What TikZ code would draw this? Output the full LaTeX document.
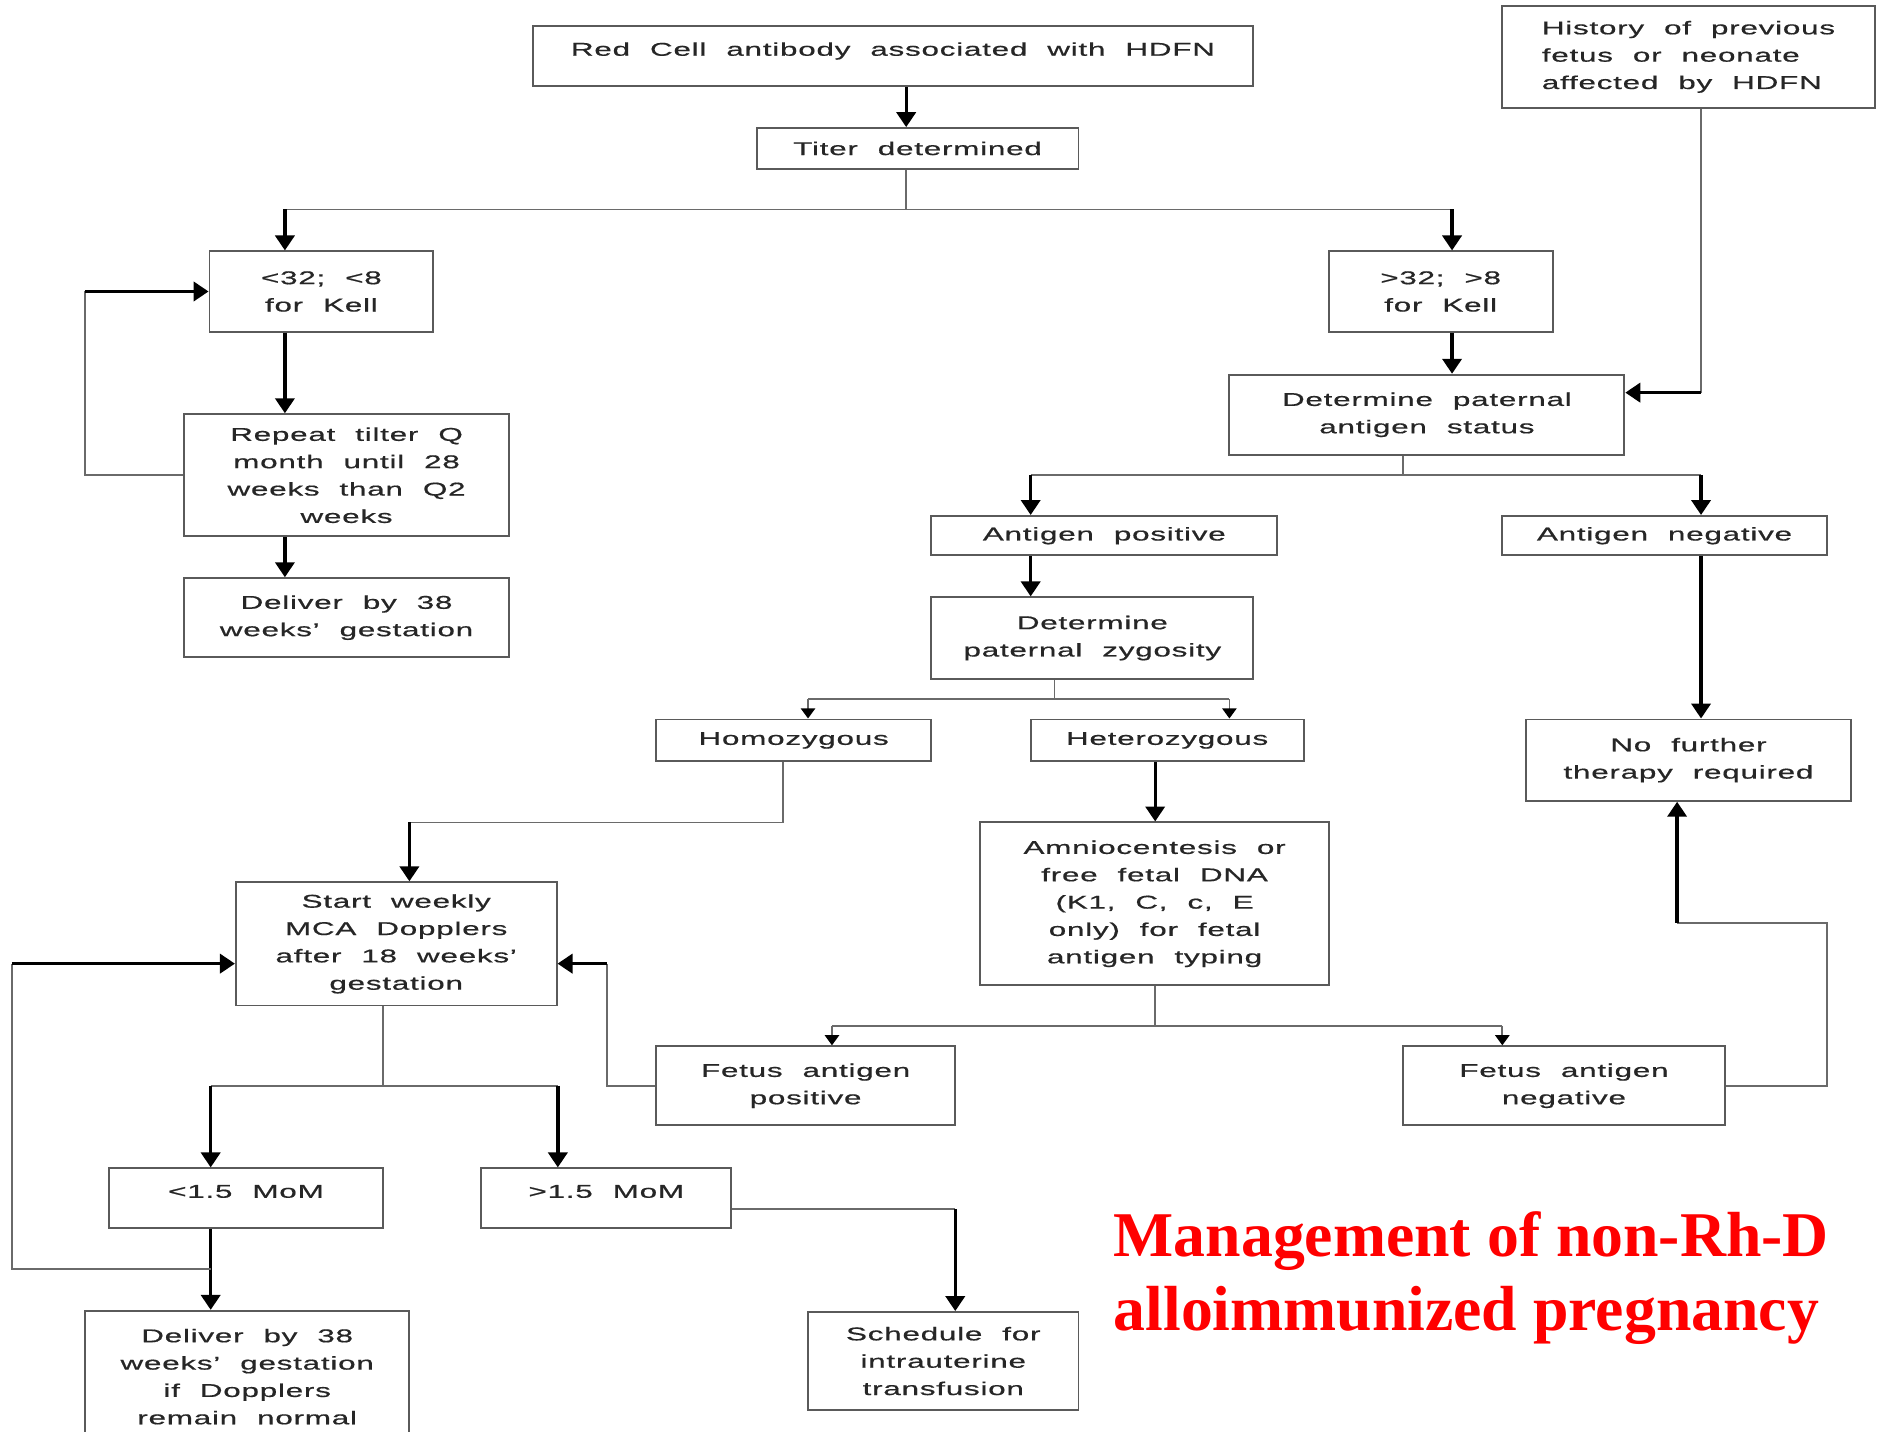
\documentclass[tikz,border=0pt]{standalone}
\usepackage{fontspec}
\usetikzlibrary{arrows.meta, calc}
\newfontfamily\boxfont{Liberation Sans}[FakeStretch=1.7, LetterSpace=4, WordSpace=2.1, FakeBold=0.6]
\newfontfamily\titlefont{Liberation Serif}
\definecolor{boxline}{HTML}{5A5A5A}
\definecolor{linkgray}{HTML}{6A6A6A}
\definecolor{titlered}{HTML}{FF0000}

\begin{document}
\begin{tikzpicture}[
    x=0.02cm, y=-0.02cm,
    box/.style 2 args={draw=boxline, line width=0.9pt, fill=white, minimum width=#1, minimum height=#2, inner sep=0pt, align=center, font=\boxfont\fontsize{8.8}{13}\selectfont, text=black!85},
    raised/.style={text height=6.3pt, text depth=6.8pt},
    link/.style={draw=linkgray, line width=0.8pt},
    arrow/.style={-{Triangle[length=0.25cm, width=0.32cm]}, line width=1.6pt, black},
    minor/.style={-{Triangle[length=0.17cm, width=0.24cm, color=black]}, link}
]
\path[use as bounding box, fill=white] (0,0) rectangle (1568,1196);

% boxes
\node[box={12.04cm}{1cm}, raised] (red) at (746,47) {Red Cell antibody associated with HDFN};
\node[box={5.38cm}{0.68cm}] (titer) at (766.5,124) {Titer determined};
\node[box={6.22cm}{1.7cm}, align=left] (history) at (1410.5,47.5) {History of previous\\fetus or neonate\\affected by HDFN};
\node[box={3.74cm}{1.34cm}] (low) at (268.5,243.5) {<32; <8\\for Kell};
\node[box={3.74cm}{1.34cm}] (high) at (1203.5,243.5) {>32; >8\\for Kell};
\node[box={5.42cm}{2.04cm}] (repeat) at (289.5,397) {Repeat tilter Q\\month until 28\\weeks than Q2\\weeks};
\node[box={5.42cm}{1.32cm}] (deliver) at (289.5,516) {Deliver by 38\\weeks’ gestation};
\node[box={6.6cm}{1.34cm}] (paternal) at (1192,346.5) {Determine paternal\\antigen status};
\node[box={5.78cm}{0.66cm}] (agpos) at (922.5,447.5) {Antigen positive};
\node[box={5.42cm}{0.66cm}] (agneg) at (1390.5,447.5) {Antigen negative};
\node[box={5.38cm}{1.36cm}] (zygosity) at (912.5,533) {Determine\\paternal zygosity};
\node[box={4.6cm}{0.7cm}] (homo) at (663,618.5) {Homozygous};
\node[box={4.56cm}{0.7cm}] (hetero) at (975,618.5) {Heterozygous};
\node[box={5.42cm}{1.36cm}] (nofurther) at (1410.5,635) {No further\\therapy required};
\node[box={5.82cm}{2.72cm}] (amnio) at (964.5,755) {Amniocentesis or\\free fetal DNA\\(K1, C, c, E\\only) for fetal\\antigen typing};
\node[box={5.36cm}{2.06cm}] (doppler) at (331,788.5) {Start weekly\\MCA Dopplers\\after 18 weeks’\\gestation};
\node[box={5cm}{1.32cm}] (fpos) at (673,907) {Fetus antigen\\positive};
\node[box={5.38cm}{1.32cm}] (fneg) at (1306.5,907) {Fetus antigen\\negative};
\node[box={4.58cm}{1cm}, raised] (momlow) at (205.5,1001) {<1.5 MoM};
\node[box={4.18cm}{1cm}, raised] (momhigh) at (506.5,1001) {>1.5 MoM};
\node[box={5.42cm}{2.2cm}] (deliverdop) at (206.5,1150) {Deliver by 38\\weeks’ gestation\\if Dopplers\\remain normal};
\node[box={4.52cm}{1.64cm}] (schedule) at (788,1137) {Schedule for\\intrauterine\\transfusion};

\node[font=\titlefont\bfseries\fontsize{30.3}{35}\selectfont, text=titlered, align=left, anchor=north west, inner sep=0pt] (title) at (930,1012) {Management of non-Rh-D\\alloimmunized pregnancy};

% titer split
\coordinate (t0) at (757,175);
\coordinate (t1) at (238,175);
\coordinate (t2) at (1213,175);
\draw[arrow] (red.south -| t0) -- (titer.north -| t0);
\draw[link] (titer.south -| t0) -- (t0);
\draw[link] (t1) -- (t2);
\draw[arrow] (t1) -- (low.north -| t1);
\draw[arrow] (t2) -- (high.north -| t2);

% low titer column
\draw[arrow] (low.south -| t1) -- (repeat.north -| t1);
\draw[arrow] (repeat.south -| t1) -- (deliver.north -| t1);
\coordinate (r1) at (71,243.5);
\draw[link] (repeat.west) -| (r1);
\draw[arrow] (r1) -- (low.west);

% high titer column
\draw[arrow] (high.south -| t2) -- (paternal.north -| t2);
\coordinate (h1) at (1421,328);
\draw[link] (history.south -| h1) -- (h1);
\draw[arrow] (h1) -- (paternal.east |- h1);

\coordinate (p0) at (1172,397);
\coordinate (p1) at (861,397);
\coordinate (p2) at (1421,397);
\draw[link] (paternal.south -| p0) -- (p0);
\draw[link] (p1) -- (p2);
\draw[arrow] (p1) -- (agpos.north -| p1);
\draw[arrow] (p2) -- (agneg.north -| p2);
\draw[arrow] (agpos.south -| p1) -- (zygosity.north -| p1);
\draw[arrow] (agneg.south -| p2) -- (nofurther.north -| p2);

% zygosity split
\coordinate (z0) at (881,584);
\coordinate (z1) at (675,584);
\coordinate (z2) at (1027,584);
\draw[link] (zygosity.south -| z0) -- (z0);
\draw[link] (z1) -- (z2);
\draw[minor] (z1) -- (homo.north -| z1);
\draw[minor] (z2) -- (hetero.north -| z2);

% amniocentesis split
\coordinate (a0) at (965,857);
\coordinate (a1) at (695,857);
\coordinate (a2) at (1255,857);
\draw[arrow] (hetero.south -| a0) -- (amnio.north -| a0);
\draw[link] (amnio.south -| a0) -- (a0);
\draw[link] (a1) -- (a2);
\draw[minor] (a1) -- (fpos.north -| a1);
\draw[minor] (a2) -- (fneg.north -| a2);

% homozygous to dopplers
\coordinate (m1) at (654,687);
\coordinate (m2) at (342,687);
\draw[link] (homo.south -| m1) -- (m1) -- (m2);
\draw[arrow] (m2) -- (doppler.north -| m2);

% fetus positive / negative
\coordinate (f1) at (507,805);
\draw[link] (fpos.west) -| (f1);
\draw[arrow] (f1) -- (doppler.east |- f1);
\coordinate (g1) at (1526,771);
\coordinate (g2) at (1401,771);
\draw[link] (fneg.east) -| (g1) -- (g2);
\draw[arrow] (g2) -- (nofurther.south -| g2);

% doppler split
\coordinate (d0) at (320,907);
\coordinate (d1) at (176,907);
\coordinate (d2) at (466,907);
\draw[link] (doppler.south -| d0) -- (d0);
\draw[link] (d1) -- (d2);
\draw[arrow] (d1) -- (momlow.north -| d1);
\draw[arrow] (d2) -- (momhigh.north -| d2);
\draw[arrow] (momlow.south -| d1) -- (deliverdop.north -| d1);
\coordinate (k1) at (176,1060);
\coordinate (k2) at (10,805);
\draw[link] (k1) -| (k2);
\draw[arrow] (k2) -- (doppler.west |- k2);

\coordinate (s1) at (798,1010);
\draw[link] (momhigh.east |- s1) -- (s1);
\draw[arrow] (s1) -- (schedule.north -| s1);
\end{tikzpicture}
\end{document}
